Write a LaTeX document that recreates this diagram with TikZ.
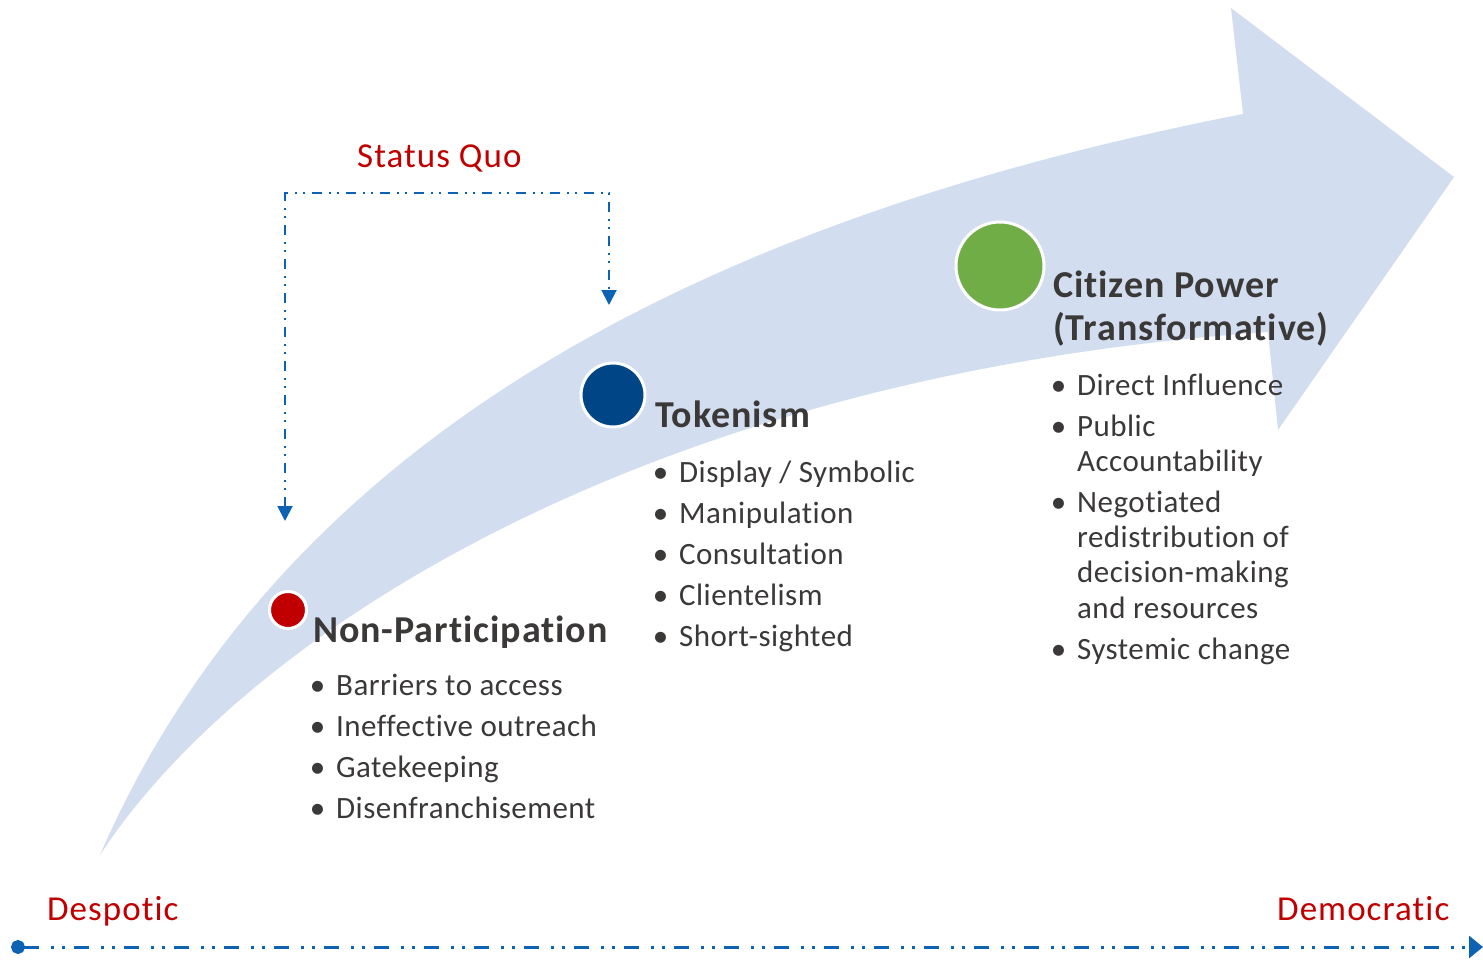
\documentclass[tikz,border=0pt]{standalone}
\usepackage{fontspec}
\setmainfont{Carlito}[Ligatures=NoCommon]
\newfontfamily\headfont[LetterSpace=2.5,Ligatures=NoCommon]{Carlito}
\newfontfamily\itemfont[LetterSpace=1.5,Ligatures=NoCommon]{Carlito}
\newfontfamily\labelfont[LetterSpace=3,Ligatures=NoCommon]{Carlito}
\usetikzlibrary{arrows.meta}

\definecolor{band}{RGB}{210,222,239}
\definecolor{axisblue}{RGB}{14,98,180}
\definecolor{quored}{RGB}{192,0,0}
\definecolor{tokblue}{RGB}{0,69,134}
\definecolor{powgreen}{RGB}{112,173,71}
\definecolor{ink}{RGB}{59,56,56}

\newcommand{\itembul}{\llap{\textbullet\hspace{11pt}}}

\begin{document}
\begin{tikzpicture}[x=1pt,y=-1pt,
    stage/.style={circle, draw=white, line width=3pt, inner sep=0pt},
    head/.style={anchor=base west, inner sep=0pt, text=ink, font=\headfont\fontsize{38}{44}\selectfont\bfseries},
    item/.style={anchor=base west, inner sep=0pt, text=ink, font=\itemfont\fontsize{31}{35}\selectfont},
    redlabel/.style={anchor=base west, inner sep=0pt, text=quored, font=\labelfont\fontsize{35}{40}\selectfont},
    axisline/.style={axisblue, line width=3pt, dash pattern=on 15pt off 12pt on 3pt off 8pt on 3pt off 9pt},
    quoline/.style={axisblue, line width=2pt, dash pattern=on 10pt off 7pt on 2pt off 6pt on 2pt off 7pt}]
    \useasboundingbox (0,0) rectangle (1483,959);
    % the big curved arrow
    \fill[band] (100,855) .. controls (280,440) and (700,220) .. (1243,114)
        -- (1231,8) -- (1454,177) -- (1278,430) -- (1268,332)
        .. controls (640,375) and (240,640) .. (100,855) -- cycle;
    % status quo bracket
    \coordinate (sqa) at (285,521);
    \coordinate (sqtop) at (447,193);
    \coordinate (sqb) at (609,305);
    \draw[quoline, {Triangle[width=15pt,length=15pt]}-{Triangle[width=15pt,length=15pt]}] (sqa) |- (sqtop) -| (sqb);
    \node[redlabel] (quo) at (357,167) {Status Quo};
    % stages
    \node[stage, fill=quored, minimum size=37pt] (np) at (288,610) {};
    \node[stage, fill=tokblue, minimum size=64pt] (tk) at (613,395) {};
    \node[stage, fill=powgreen, minimum size=88pt] (cp) at (1000,266) {};
    \node[head] (nph) at (313,642) {Non-Participation};
    \node[head] (tkh) at (655,427) {Tokenism};
    \node[head] (cph) at (1053,297) {Citizen Power};
    \node[head] (cph2) at (1053,340) {(Transformative)};
    \foreach \txt [count=\i] in {Barriers to access, Ineffective outreach, Gatekeeping, Disenfranchisement}
        \node[item] (np\i) at (336,654+41*\i) {\itembul\txt};
    \foreach \txt [count=\i] in {Display / Symbolic, Manipulation, Consultation, Clientelism, Short-sighted}
        \node[item] (tk\i) at (679,441+41*\i) {\itembul\txt};
    \node[item] (cp1) at (1077,395) {\itembul Direct Influence};
    \node[item] (cp2) at (1077,436) {\itembul Public};
    \node[item] (cp2b) at (1077,471) {Accountability};
    \node[item] (cp3) at (1077,512) {\itembul Negotiated};
    \node[item] (cp3b) at (1077,547) {redistribution of};
    \node[item] (cp3c) at (1077,582) {decision-making};
    \node[item] (cp3d) at (1077,618) {and resources};
    \node[item] (cp4) at (1077,659) {\itembul Systemic change};
    % axis
    \coordinate (lo) at (11,947);
    \coordinate (hi) at (1483,947);
    \draw[axisline, {Circle[length=14pt]}-{Triangle[width=22pt,length=14pt]}] (lo) -- (hi);
    \node[redlabel] (desp) at (47,920) {Despotic};
    \node[redlabel] (demo) at (1277,920) {Democratic};
\end{tikzpicture}
\end{document}
